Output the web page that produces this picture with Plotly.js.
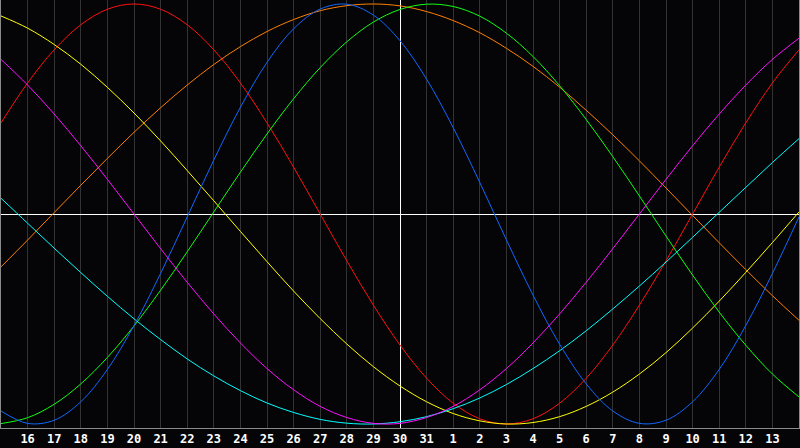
<!DOCTYPE html>
<html>
<head>
<meta charset="utf-8">
<script src="https://cdn.plot.ly/plotly-3.0.1.min.js"></script>
<style>
  html, body { margin: 0; padding: 0; background: #050508; }
  #chart { width: 800px; height: 448px; }
</style>
</head>
<body>
<div id="chart"></div>
<script>
// day offsets from today (0 = the 30th)
var days = [-15, -14, -13, -12, -11, -10, -9, -8, -7, -6, -5, -4, -3, -2, -1, 0,
            1, 2, 3, 4, 5, 6, 7, 8, 9, 10, 11, 12, 13, 14, 15];
var tickDays = days.slice(1, -1);
var tickLabels = ['16', '17', '18', '19', '20', '21', '22', '23', '24', '25', '26', '27', '28', '29',
                  '30', '31', '1', '2', '3', '4', '5', '6', '7', '8', '9', '10', '11', '12', '13'];

// values, one per day
var red = [0.434, 0.624, 0.782, 0.901, 0.975, 1.000, 0.975, 0.901, 0.782, 0.624, 0.434, 0.223, 0.000,
           -0.223, -0.434, -0.624, -0.782, -0.901, -0.975, -1.000, -0.975, -0.901, -0.782, -0.624,
           -0.434, -0.223, 0.000, 0.223, 0.434, 0.624, 0.782];
var orange = [-0.252, -0.124, 0.007, 0.137, 0.265, 0.389, 0.506, 0.614, 0.712, 0.797, 0.869, 0.926,
              0.968, 0.992, 1.000, 0.991, 0.964, 0.921, 0.863, 0.789, 0.703, 0.604, 0.494, 0.377,
              0.253, 0.124, -0.007, -0.137, -0.265, -0.389, -0.506];
var yellow = [0.943, 0.885, 0.807, 0.713, 0.603, 0.481, 0.348, 0.207, 0.063, -0.083, -0.227, -0.367,
              -0.498, -0.619, -0.727, -0.819, -0.894, -0.950, -0.985, -1.000, -0.993, -0.965, -0.916,
              -0.848, -0.762, -0.660, -0.543, -0.415, -0.278, -0.136, 0.010];
var green = [-0.998, -0.970, -0.906, -0.809, -0.683, -0.533, -0.363, -0.180, 0.010, 0.199, 0.381,
             0.549, 0.697, 0.820, 0.914, 0.974, 0.999, 0.988, 0.942, 0.861, 0.750, 0.611, 0.450,
             0.273, 0.086, -0.105, -0.291, -0.467, -0.625, -0.762, -0.871];
var cyan = [0.075, -0.044, -0.163, -0.279, -0.392, -0.499, -0.598, -0.690, -0.771, -0.841, -0.900,
            -0.945, -0.978, -0.996, -1.000, -0.989, -0.965, -0.927, -0.876, -0.812, -0.736, -0.651,
            -0.556, -0.452, -0.343, -0.229, -0.111, 0.008, 0.127, 0.245, 0.359];
var blue = [-0.938, -0.997, -0.982, -0.894, -0.740, -0.531, -0.283, -0.014, 0.257, 0.508, 0.722,
            0.882, 0.976, 0.999, 0.947, 0.825, 0.642, 0.411, 0.150, -0.123, -0.386, -0.620, -0.809,
            -0.938, -0.997, -0.982, -0.894, -0.740, -0.531, -0.283, -0.014];
var magenta = [0.736, 0.614, 0.476, 0.325, 0.165, 0.000, -0.165, -0.325, -0.476, -0.614, -0.736,
               -0.837, -0.916, -0.969, -0.997, -0.997, -0.969, -0.916, -0.837, -0.736, -0.614,
               -0.476, -0.325, -0.165, 0.000, 0.165, 0.325, 0.476, 0.614, 0.736, 0.837];

var series = [
  { y: red, color: '#ff1010' },
  { y: orange, color: '#ff8000' },
  { y: yellow, color: '#ffff00' },
  { y: green, color: '#10ff10' },
  { y: cyan, color: '#00ffff' },
  { y: blue, color: '#1068ff' },
  { y: magenta, color: '#ff10ff' }
];

var traces = series.map(function (s) {
  return {
    type: 'scatter', mode: 'lines', x: days, y: s.y,
    line: { color: s.color, width: 1, shape: 'spline', smoothing: 1 },
    hoverinfo: 'skip'
  };
});

var layout = {
  width: 800, height: 448,
  margin: { l: 1, r: 1, t: 0, b: 20 },
  paper_bgcolor: '#050508',
  plot_bgcolor: '#050508',
  showlegend: false,
  xaxis: {
    range: [-15, 15], fixedrange: true,
    tickmode: 'array', tickvals: tickDays, ticktext: tickLabels, ticks: '',
    tickfont: { family: 'DejaVu Sans Mono', size: 12, color: '#ffffff', weight: 'bold' },
    showgrid: true, gridcolor: '#333333', gridwidth: 1,
    zeroline: true, zerolinecolor: '#ffffff', zerolinewidth: 1,
    showline: true, mirror: true, linecolor: '#8a8a8a', linewidth: 1
  },
  yaxis: {
    range: [-1.019, 1.019], fixedrange: true,
    showticklabels: false, ticks: '', showgrid: false,
    zeroline: true, zerolinecolor: '#ffffff', zerolinewidth: 1,
    showline: true, mirror: true, linecolor: '#8a8a8a', linewidth: 1
  }
};

Plotly.newPlot('chart', traces, layout, { displayModeBar: false, staticPlot: true });
</script>
</body>
</html>
